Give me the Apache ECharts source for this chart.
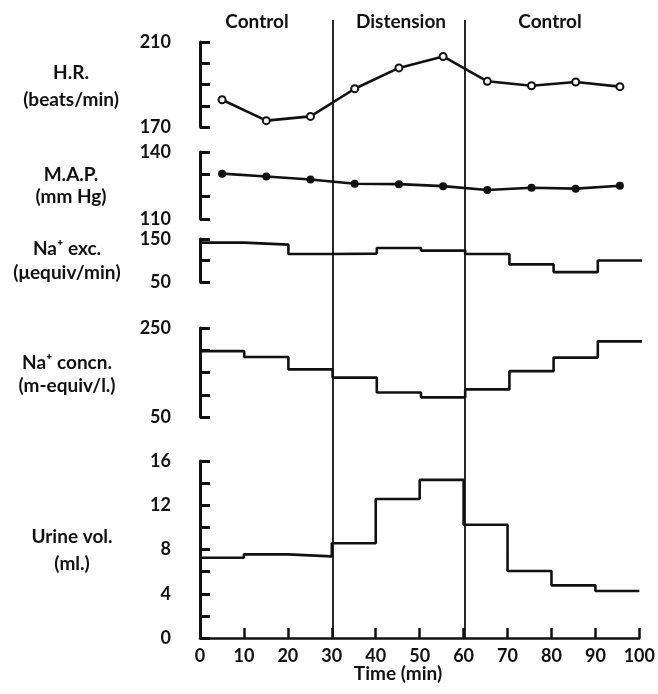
<!DOCTYPE html>
<html>
<head>
<meta charset="utf-8">
<script src="https://cdn.jsdelivr.net/npm/echarts@6/dist/echarts.min.js"></script>
<style>
  html, body { margin: 0; background: #fff; }
  #chart { width: 658px; height: 694px; }
</style>
</head>
<body>
<div id="chart"></div>
<script>
// data
const binEdges = [0, 10, 20, 30, 40, 50, 60, 70, 80, 90, 100];
const midTimes = [5, 15, 25, 35, 45, 55, 65, 75, 85, 95];
const heartRate = [182.8, 173, 175, 188, 197.8, 203.2, 191.5, 189.4, 191.2, 189];
const meanArtPressure = [130.3, 129, 127.7, 125.8, 125.6, 124.7, 123, 124, 123.6, 124.9];
const naExcretion = [141.5, 137, 115, 116, 129, 123, 115, 91, 73, 100];
const naConcentration = [198, 185, 157, 138.5, 105, 94, 112, 153, 183.5, 220];
const urineVolume = [7.26, 7.56, 7.38, 8.56, 12.57, 14.29, 10.24, 6.06, 4.76, 4.25];
const periodLabels = ['Control', 'Distension', 'Control'];
const periodBounds = [30, 60];
const timeTicks = [0, 100, 10];

const FONT = 'Lato';
const ink = '#111';

function stepData(vals) {
  const d = vals.map((v, i) => [binEdges[i], v]);
  d.push([binEdges[binEdges.length - 1], vals[vals.length - 1]]);
  return d;
}

// panel layout (top to bottom)
const panels = [
  { top: 42, height: 85, min: 170, max: 210, interval: 10, labels: [170, 210] },
  { top: 152, height: 67, min: 110, max: 140, interval: 10, labels: [110, 140] },
  { top: 239, height: 43, min: 50, max: 150, interval: 50, labels: [50, 150] },
  { top: 328, height: 89, min: 50, max: 250, interval: 50, labels: [50, 250] },
  { top: 461, height: 177, min: 0, max: 16, interval: 2, labels: [0, 4, 8, 12, 16] }
];

const grids = panels.map(p => ({ left: 200, right: 16, top: p.top, height: p.height }));
grids.push({ left: 200, right: 16, top: 20, bottom: 56 }); // overlay for period lines

const xAxes = panels.map((p, i) => {
  const last = i === panels.length - 1;
  return {
    type: 'value', gridIndex: i, min: timeTicks[0], max: timeTicks[1], interval: timeTicks[2],
    show: last,
    splitLine: { show: false },
    axisLine: { lineStyle: { color: ink, width: 2.5 } },
    axisTick: { inside: true, length: 10, lineStyle: { color: ink, width: 2.5 } },
    axisLabel: { color: ink, fontFamily: FONT, fontSize: 18, fontWeight: 'bold', margin: 9 }
  };
});
xAxes.push({ type: 'value', gridIndex: 5, min: 0, max: 100, show: false });

const yAxes = panels.map((p, i) => ({
  type: 'value', gridIndex: i, min: p.min, max: p.max, interval: p.interval,
  offset: 22,
  splitLine: { show: false },
  axisLine: { show: true, lineStyle: { color: ink, width: 3 } },
  axisTick: { show: true, inside: true, length: 10, lineStyle: { color: ink, width: 3 } },
  axisLabel: {
    color: ink, fontFamily: FONT, fontSize: 18, fontWeight: 'bold', margin: 7,
    formatter: v => (p.labels.indexOf(v) >= 0 ? String(v) : '')
  }
}));
yAxes.push({ type: 'value', gridIndex: 5, min: 0, max: 1, show: false });

const lineStyle = { color: ink, width: 2.6 };

const series = [
  {
    type: 'line', xAxisIndex: 0, yAxisIndex: 0,
    data: midTimes.map((t, i) => [t, heartRate[i]]),
    symbol: 'circle', symbolSize: 7,
    itemStyle: { color: '#fff', borderColor: ink, borderWidth: 2 },
    lineStyle: lineStyle
  },
  {
    type: 'line', xAxisIndex: 1, yAxisIndex: 1,
    data: midTimes.map((t, i) => [t, meanArtPressure[i]]),
    symbol: 'circle', symbolSize: 8,
    itemStyle: { color: ink },
    lineStyle: lineStyle
  },
  { type: 'line', step: 'end', xAxisIndex: 2, yAxisIndex: 2, data: stepData(naExcretion), showSymbol: false, lineStyle: lineStyle },
  { type: 'line', step: 'end', xAxisIndex: 3, yAxisIndex: 3, data: stepData(naConcentration), showSymbol: false, lineStyle: lineStyle },
  { type: 'line', step: 'end', xAxisIndex: 4, yAxisIndex: 4, data: stepData(urineVolume), showSymbol: false, lineStyle: lineStyle },
  {
    type: 'line', xAxisIndex: 5, yAxisIndex: 5, data: [], showSymbol: false,
    markLine: {
      silent: true, symbol: 'none', label: { show: false },
      lineStyle: { color: ink, width: 1.8, type: 'solid' },
      data: periodBounds.map(b => ({ xAxis: b }))
    }
  }
];

const sideLabels = [
  [71, 73, 'H.R.'], [71, 100, '(beats/min)'],
  [71, 175, 'M.A.P.'], [71, 197, '(mm Hg)'],
  [67, 249, 'Na\u207A exc.'], [67, 273, '(\u03BCequiv/min)'],
  [67, 363, 'Na\u207A concn.'], [67, 386, '(m-equiv/l.)'],
  [72, 537, 'Urine vol.'], [72, 564, '(ml.)'],
  [257, 22, periodLabels[0]], [401, 22, periodLabels[1]], [550, 22, periodLabels[2]],
  [398, 674, 'Time (min)']
];
const graphic = sideLabels.map(([x, y, s]) => ({
  type: 'text', x: x, y: y,
  style: { text: s, fill: ink, font: 'bold 19px ' + FONT, align: 'center', verticalAlign: 'middle' }
}));

const chart = echarts.init(document.getElementById('chart'));
chart.setOption({
  animation: false,
  backgroundColor: '#fff',
  grid: grids,
  xAxis: xAxes,
  yAxis: yAxes,
  series: series,
  graphic: graphic
});
</script>
</body>
</html>
